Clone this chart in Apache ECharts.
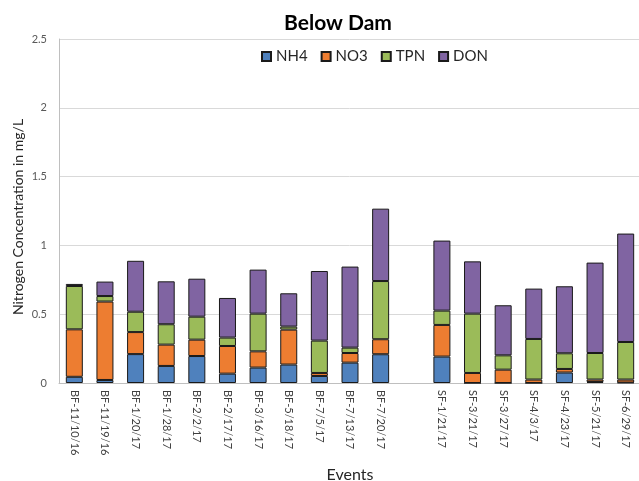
<!DOCTYPE html>
<html>
<head>
<meta charset="utf-8">
<script src="https://cdn.jsdelivr.net/npm/echarts@6/dist/echarts.min.js"></script>
<style>html,body{margin:0;padding:0;background:#fff;}#c{width:639px;height:481px;}</style>
</head>
<body>
<div id="c"></div>
<script>
const categories = ['BF-11/10/16','BF-11/19/16','BF-1/20/17','BF-1/28/17','BF-2/2/17','BF-2/17/17','BF-3/16/17','BF-5/18/17','BF-7/5/17','BF-7/13/17','BF-7/20/17','','SF-1/21/17','SF-3/21/17','SF-3/27/17','SF-4/3/17','SF-4/23/17','SF-5/21/17','SF-6/29/17'];
const nh4 = [0.045,0.022,0.21,0.124,0.196,0.068,0.112,0.134,0.051,0.148,0.209,null,0.192,0,0,0,0.076,0.007,0.003];
const no3 = [0.345,0.57,0.16,0.155,0.119,0.201,0.118,0.254,0.022,0.07,0.109,null,0.23,0.073,0.097,0.025,0.026,0.018,0.022];
const tpn = [0.315,0.04,0.148,0.148,0.167,0.061,0.274,0.022,0.235,0.039,0.423,null,0.104,0.431,0.104,0.295,0.114,0.193,0.273];
const don = [0.015,0.105,0.37,0.312,0.276,0.288,0.32,0.242,0.506,0.589,0.526,null,0.509,0.38,0.364,0.366,0.487,0.657,0.788];
const yTicks = [0, 0.5, 1, 1.5, 2, 2.5];

const font = 'Lato, "Open Sans", sans-serif';
const colors = ['#4F81BD','#ED7D31','#9BBB59','#8064A2'];
const names = ['NH4','NO3','TPN','DON'];
const data = [nh4,no3,tpn,don];

const chart = echarts.init(document.getElementById('c'));
chart.setOption({
  animation: false,
  textStyle: {fontFamily: font},
  title: {
    text: 'Below Dam', left: 333, textAlign: 'center', top: 8,
    textStyle: {fontFamily: font, fontSize: 21, fontWeight: 'bold', color: '#000'}
  },
  legend: {
    left: 256, top: 44, icon: 'rect', itemWidth: 9, itemHeight: 9, itemGap: 13,
    textStyle: {fontFamily: font, fontSize: 15, color: '#262626'},
    data: names
  },
  grid: {left: 59, right: -2, top: 39, bottom: 98, containLabel: false, outerBoundsMode: 'none'},
  xAxis: {
    type: 'category', data: categories,
    name: 'Events', nameLocation: 'middle', nameGap: 84,
    nameTextStyle: {fontFamily: font, fontSize: 16, color: '#262626'},
    axisLine: {lineStyle: {color: '#bfbfbf'}},
    axisTick: {show: false},
    axisLabel: {rotate: -90, interval: 0, fontSize: 11, color: '#404040', margin: 7, fontFamily: font}
  },
  yAxis: {
    type: 'value', min: yTicks[0], max: yTicks[yTicks.length-1], interval: 0.5,
    name: 'Nitrogen Concentration in mg/L', nameLocation: 'middle', nameGap: 34,
    nameMoveOverlap: false,
    nameTextStyle: {fontFamily: font, fontSize: 14, color: '#262626', padding: [0, 12, 0, 0]},
    axisLine: {show: true, lineStyle: {color: '#bfbfbf'}},
    axisTick: {show: false},
    axisLabel: {fontSize: 11, color: '#595959', margin: 12, fontFamily: font},
    splitLine: {lineStyle: {color: '#d9d9d9'}}
  },
  series: names.map((n, i) => ({
    name: n, type: 'bar', stack: 'total', barWidth: 17,
    itemStyle: {color: colors[i], borderColor: '#1a1a1a', borderWidth: 1},
    data: data[i]
  }))
});
</script>
</body>
</html>
